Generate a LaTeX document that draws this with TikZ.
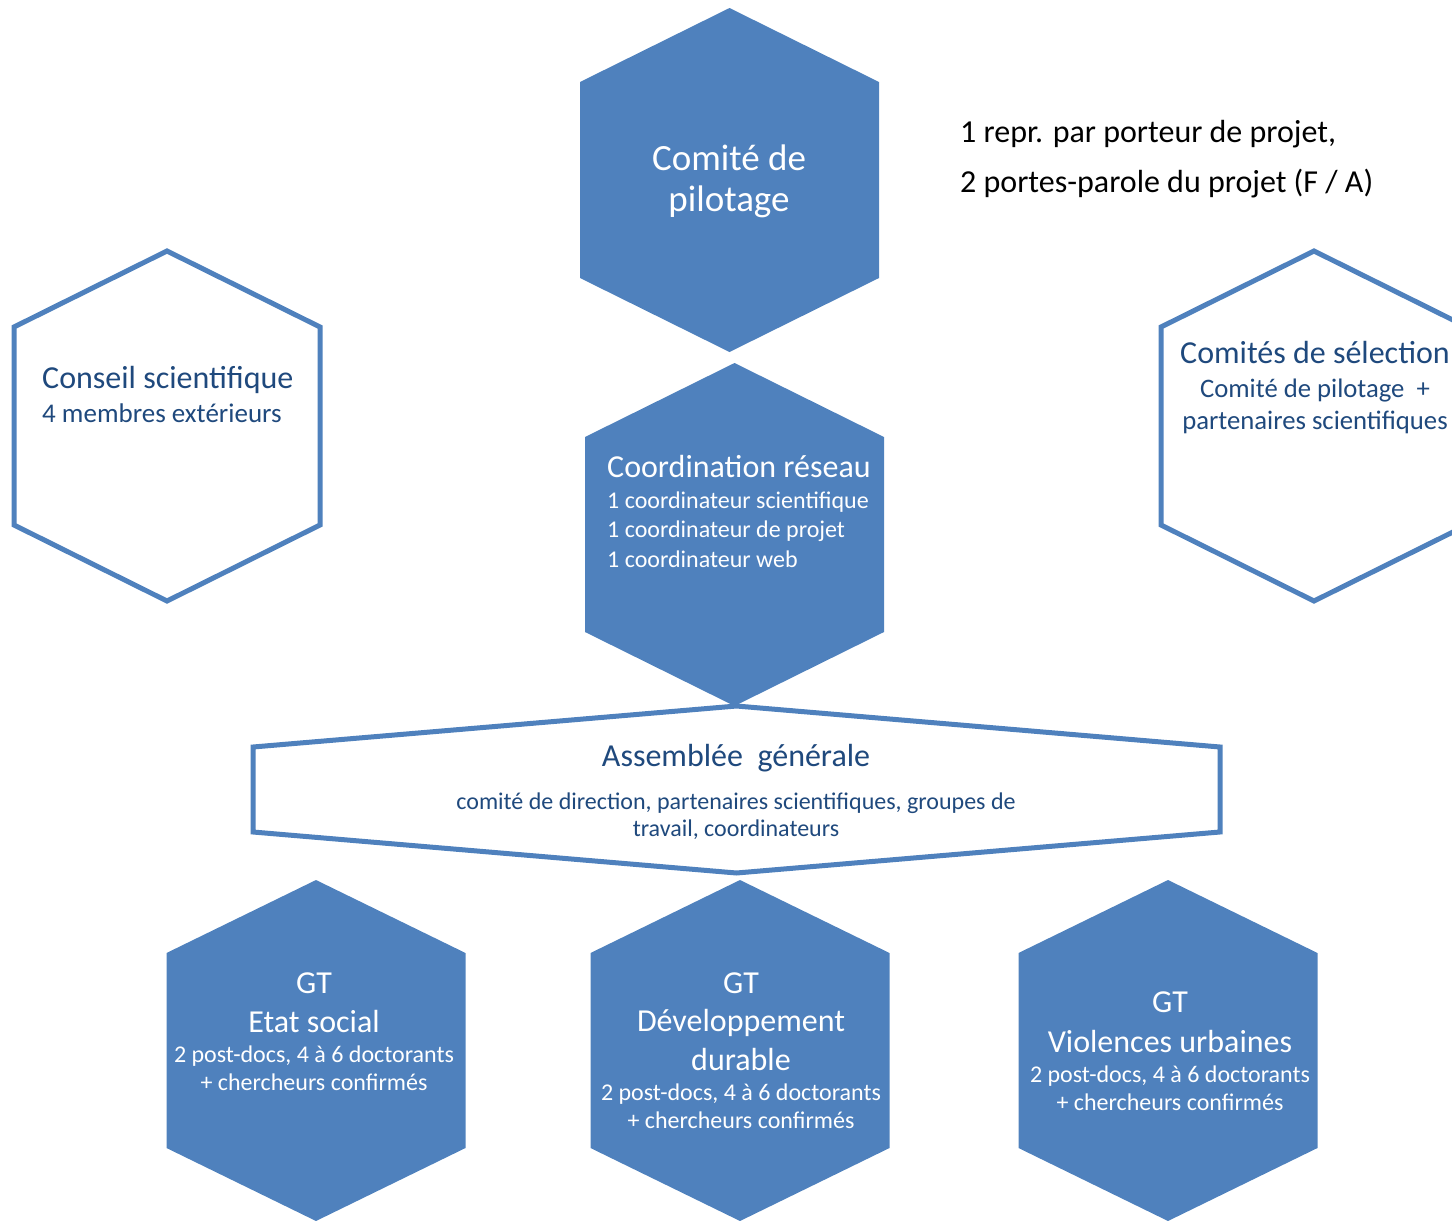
\documentclass[tikz,border=0pt]{standalone}
\usepackage{fontspec}
\setmainfont{Carlito}
\definecolor{hexblue}{HTML}{4F81BD}
\definecolor{txtblue}{HTML}{1F497D}
\def\hexa[#1](#2,#3)(#4:#5:#6){\draw[#1] (#2,#3) -- ++(#4,#5) -- ++(0,#6) -- ++(-#4,#5) -- ++(-#4,-#5) -- ++(0,-#6) -- cycle;}
\tikzset{
  fullhex/.style={fill=hexblue, draw=none},
  openhex/.style={draw=hexblue, line width=5pt, fill=white},
  whitetxt/.style={text=white, align=center, inner sep=0pt, anchor=base},
  bluetxt/.style={text=txtblue, align=center, inner sep=0pt, anchor=base},
  titletxt/.style={font=\fontsize{32}{39}\selectfont},
  subtxt/.style={font=\fontsize{24}{29}\selectfont}
}

\begin{document}
\begin{tikzpicture}[x=1pt, y=-1pt]
			\useasboundingbox (0,0) rectangle (1452,1221);

			% top
			\hexa[fullhex](729.5,8)(149.5:74:196);
			\node[whitetxt, font=\fontsize{37}{41}\selectfont] (pilotage) at (729,211) {Comité de\\pilotage};
			\node[anchor=base west, align=left, inner sep=0pt, font=\fontsize{32}{50}\selectfont] (porteurs) at (960,192) {1 repr. par porteur de projet,\\2 portes-parole du projet (F / A)};

			% sides
			\hexa[openhex](167,251)(153:76:198);
			\node[bluetxt, titletxt, anchor=base west] (conseil) at (42,388) {Conseil scientifique};
			\node[bluetxt, font=\fontsize{27}{32}\selectfont, anchor=base west] (conseil-sub) at (42,422) {4 membres extérieurs};

			\hexa[openhex](1314,251)(153:76:198);
			\node[bluetxt, titletxt] (selection) at (1315,363) {Comités de sélection};
			\node[bluetxt, font=\fontsize{26.7}{32}\selectfont] (selection-sub) at (1315,429) {Comité de pilotage~~+\\partenaires scientifiques};

			% middle
			\hexa[fullhex](734.5,363)(149.5:74:195);
			\node[whitetxt, titletxt, anchor=base west] (coord) at (607,477) {Coordination réseau};
			\node[whitetxt, anchor=base west, align=left, font=\fontsize{24}{29.5}\selectfont] (coord-sub) at (607,567) {1 coordinateur scientifique\\1 coordinateur de projet\\1 coordinateur web};

			\hexa[openhex](736.5,706)(483.5:41:85);
			\node[bluetxt, titletxt] (assemblee) at (736,766) {Assemblée~~générale};
			\node[bluetxt, font=\fontsize{24}{27}\selectfont] (assemblee-sub) at (736,836) {comité de direction, partenaires scientifiques, groupes de\\travail, coordinateurs};

			% bottom
			\hexa[fullhex](316,880)(149.5:73:195);
			\node[whitetxt, titletxt] (gtetat) at (314,1032) {GT\\Etat social};
			\node[whitetxt, font=\fontsize{24}{28}\selectfont] (gtetat-sub) at (314,1090) {2 post-docs, 4 à 6 doctorants\\+ chercheurs confirmés};

			\hexa[fullhex](740,880)(149.5:73:195);
			\node[whitetxt, font=\fontsize{32}{38.5}\selectfont] (gtdev) at (741,1070) {GT\\Développement\\durable};
			\node[whitetxt, font=\fontsize{24}{28}\selectfont] (gtdev-sub) at (741,1128) {2 post-docs, 4 à 6 doctorants\\+ chercheurs confirmés};

			\hexa[fullhex](1168,880)(149.5:73:195);
			\node[whitetxt, font=\fontsize{32}{40}\selectfont] (gtviol) at (1170,1052) {GT\\Violences urbaines};
			\node[whitetxt, font=\fontsize{24}{28}\selectfont] (gtviol-sub) at (1170,1110) {2 post-docs, 4 à 6 doctorants\\+ chercheurs confirmés};
\end{tikzpicture}
\end{document}
